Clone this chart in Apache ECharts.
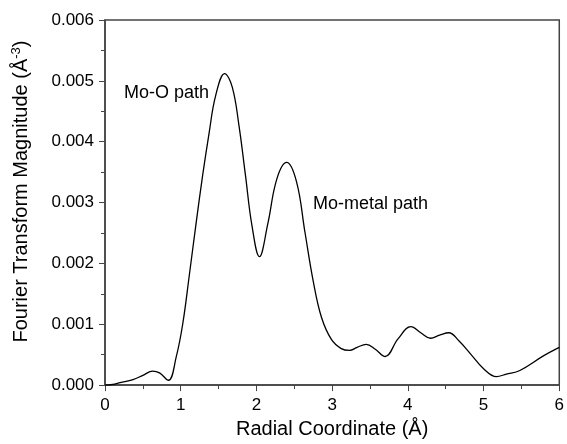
<!DOCTYPE html>
<html>
<head>
<meta charset="utf-8">
<script src="https://cdn.jsdelivr.net/npm/echarts@6/dist/echarts.min.js"></script>
<style>
  html, body { margin: 0; padding: 0; background: #fff; }
  #chart { width: 567px; height: 444px; }
</style>
</head>
<body>
<div id="chart"></div>
<script>
// radial coordinate (Å) and FT magnitude
const radius = [0, 0.1, 0.2, 0.37, 0.5, 0.63, 0.72, 0.838, 0.94, 1.026, 1.114, 1.2, 1.29, 1.376, 1.46, 1.58, 1.68, 1.77, 1.855, 1.94, 2.04, 2.15, 2.27, 2.4, 2.53, 2.64, 2.75, 2.86, 2.99, 3.12, 3.23, 3.33, 3.45, 3.57, 3.7, 3.87, 4.04, 4.17, 4.3, 4.42, 4.54, 4.68, 4.83, 5.0, 5.17, 5.3, 5.48, 5.79, 6.0];
const magnitude = [0, 0.00001, 0.00004, 0.00009, 0.00016, 0.00023, 0.0002, 0.00008, 0.00046, 0.001, 0.00181, 0.00263, 0.00345, 0.00415, 0.00475, 0.00512, 0.0049, 0.00426, 0.00345, 0.00263, 0.00211, 0.00265, 0.00339, 0.00366, 0.00334, 0.00252, 0.00171, 0.00111, 0.00075, 0.0006, 0.00057, 0.00062, 0.00067, 0.00059, 0.00047, 0.00076, 0.00096, 0.00086, 0.00077, 0.00082, 0.00086, 0.00072, 0.00051, 0.00027, 0.00014, 0.00018, 0.00024, 0.00048, 0.00062];
const xTicks = [0, 1, 2, 3, 4, 5, 6];
const yTicks = [0, 0.001, 0.002, 0.003, 0.004, 0.005, 0.006];
const peakLabels = ['Mo-O path', 'Mo-metal path'];

const font = 'Liberation Sans, Arial, sans-serif';
const chart = echarts.init(document.getElementById('chart'));

chart.setOption({
  animation: false,
  grid: {
    left: 105, right: 4, top: 20, bottom: 56,
    show: true, borderColor: '#444', borderWidth: 1.5
  },
  xAxis: {
    type: 'value',
    min: xTicks[0], max: xTicks[xTicks.length - 1], interval: 1,
    name: 'Radial Coordinate (Å)',
    nameLocation: 'middle', nameGap: 32,
    nameTextStyle: { fontFamily: font, fontSize: 20, color: '#000' },
    axisLine: { lineStyle: { color: '#444', width: 1.5 } },
    axisTick: { length: 6, lineStyle: { color: '#444' } },
    minorTick: { show: true, splitNumber: 2, length: 4, lineStyle: { color: '#444' } },
    splitLine: { show: false },
    axisLabel: { fontFamily: font, fontSize: 17, color: '#000', margin: 12 }
  },
  yAxis: {
    type: 'value',
    min: yTicks[0], max: yTicks[yTicks.length - 1], interval: 0.001,
    name: '{a|Fourier Transform Magnitude (Å}{s|-3}{a|)}',
    nameLocation: 'middle', nameGap: 73, nameRotate: 90,
    nameTextStyle: {
      padding: [0, 0, 0, 22],
      rich: {
        a: { fontFamily: font, fontSize: 20, color: '#000' },
        s: { fontFamily: font, fontSize: 13, color: '#000', verticalAlign: 'top', padding: [0, 0, 9, 0] }
      }
    },
    axisLine: { lineStyle: { color: '#444', width: 1.5 } },
    axisTick: { length: 6, lineStyle: { color: '#444' } },
    minorTick: { show: true, splitNumber: 2, length: 4, lineStyle: { color: '#444' } },
    splitLine: { show: false },
    axisLabel: {
      fontFamily: font, fontSize: 17, color: '#000', margin: 11,
      formatter: v => v.toFixed(3)
    }
  },
  series: [{
    type: 'line',
    data: radius.map((r, i) => [r, magnitude[i]]),
    smooth: 0.4,
    showSymbol: false,
    lineStyle: { color: '#000', width: 1.3 }
  }],
  graphic: [
    { type: 'text', left: 124, top: 84, style: { text: peakLabels[0], font: '18px ' + font, fill: '#000' } },
    { type: 'text', left: 313, top: 195, style: { text: peakLabels[1], font: '18px ' + font, fill: '#000' } }
  ]
});
</script>
</body>
</html>
